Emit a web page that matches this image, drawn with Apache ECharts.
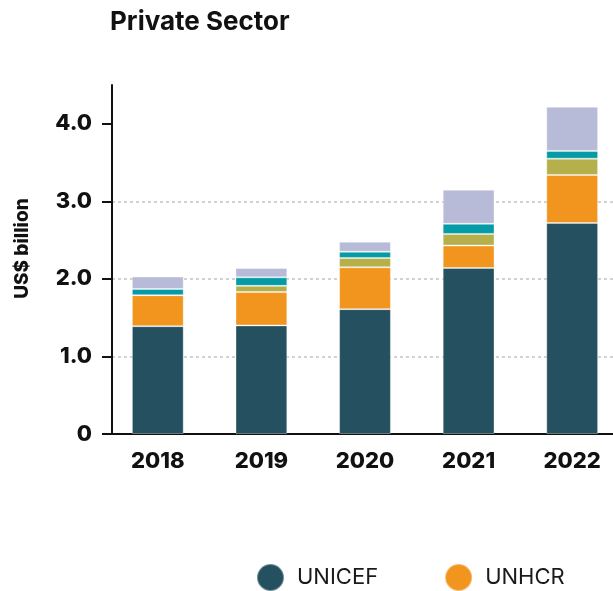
<!DOCTYPE html>
<html>
<head>
<meta charset="utf-8">
<script src="https://cdn.jsdelivr.net/npm/echarts@6/dist/echarts.min.js"></script>
<style>
  html, body { margin: 0; padding: 0; background: #ffffff; }
  #chart { width: 613px; height: 591px; }
</style>
</head>
<body>
<div id="chart"></div>
<script>
// Private sector funding by entity, US$ billion
const years = ['2018', '2019', '2020', '2021', '2022'];
const unicef = [1.39, 1.40, 1.61, 2.14, 2.72];
const unhcr = [0.40, 0.43, 0.54, 0.29, 0.62];
const wfp = [0.00, 0.08, 0.12, 0.15, 0.21];
const who = [0.08, 0.11, 0.08, 0.13, 0.10];
const others = [0.16, 0.12, 0.13, 0.44, 0.57];
const yTicks = [0, 1, 2, 3, 4];

const FONT = 'Inter, "Noto Sans", sans-serif';

function barSeries(name, values, color) {
  return {
    name: name,
    type: 'bar',
    stack: 'total',
    data: values,
    barWidth: '50%',
    itemStyle: { color: color, borderColor: 'rgba(255,255,255,0.35)', borderWidth: 1 },
    emphasis: { disabled: true }
  };
}

const chart = echarts.init(document.getElementById('chart'), null, { renderer: 'canvas' });
chart.setOption({
  animation: false,
  title: {
    text: 'Private Sector',
    left: 105,
    top: 4,
    padding: 5,
    textStyle: { fontFamily: FONT, fontSize: 26, fontWeight: 700, color: '#111111' }
  },
  legend: {
    data: ['UNICEF', 'UNHCR'],
    left: 256,
    top: 563,
    padding: 0,
    icon: 'circle',
    itemWidth: 27,
    itemHeight: 27,
    itemGap: 66,
    textStyle: { fontFamily: FONT, fontSize: 22, color: '#1a1a1a', padding: [0, 0, 0, 8] }
  },
  grid: { left: 106, width: 518, top: 85, bottom: 157, outerBoundsMode: 'none', containLabel: false },
  xAxis: {
    type: 'category',
    data: years,
    axisLine: { show: true, lineStyle: { color: '#111111', width: 2 } },
    axisTick: { show: false },
    axisLabel: { margin: 16, fontFamily: FONT, fontSize: 22, fontWeight: 800, color: '#111111' },
    splitLine: { show: false }
  },
  yAxis: {
    type: 'value',
    min: 0,
    max: 4.5,
    interval: 1,
    offset: -6,
    name: 'US$ billion',
    nameLocation: 'middle',
    nameRotate: 90,
    nameGap: 80,
    nameTextStyle: { fontFamily: FONT, fontSize: 19, fontWeight: 800, color: '#111111', padding: [0, 0, 0, 22] },
    axisLine: { show: true, lineStyle: { color: '#111111', width: 2 } },
    axisTick: { show: true, length: 10, customValues: yTicks, lineStyle: { color: '#111111', width: 2 } },
    axisLabel: {
      margin: 20,
      customValues: yTicks,
      fontFamily: FONT, fontSize: 22, fontWeight: 800, color: '#111111',
      formatter: function (v) { return v === 0 ? '0' : v.toFixed(1); }
    },
    splitLine: {
      show: true,
      showMinLine: false,
      showMaxLine: false,
      lineStyle: { color: '#c4c4c4', width: 1.5, type: [3, 3] }
    }
  },
  series: [
    barSeries('UNICEF', unicef, '#24505f'),
    barSeries('UNHCR', unhcr, '#f2951f'),
    barSeries('WFP', wfp, '#b5b04b'),
    barSeries('WHO', who, '#049aa6'),
    barSeries('Other', others, '#b7bbd7')
  ]
});
</script>
</body>
</html>
